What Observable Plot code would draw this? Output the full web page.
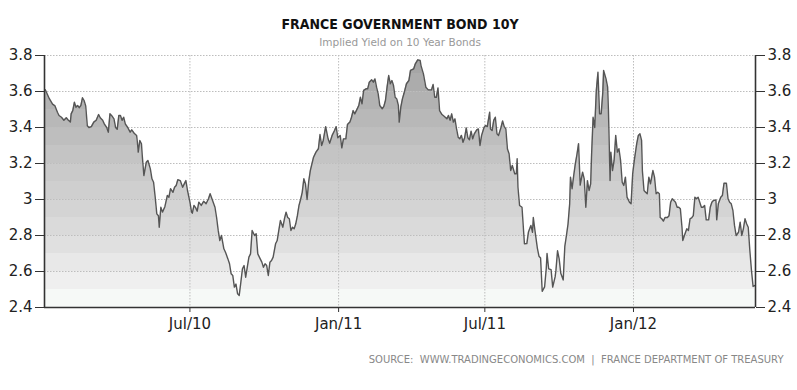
<!DOCTYPE html>
<html><head><meta charset="utf-8">
<script src="https://cdn.jsdelivr.net/npm/d3@7"></script>
<script src="https://cdn.jsdelivr.net/npm/@observablehq/plot@0.6"></script>
<style>body{margin:0;background:#fff;}</style>
</head><body><div id="chart"></div>
<script>
const title = "FRANCE GOVERNMENT BOND 10Y";
const subtitle = "Implied Yield on 10 Year Bonds";
const source = "SOURCE:  WWW.TRADINGECONOMICS.COM  |  FRANCE DEPARTMENT OF TREASURY";

// day offsets from startDate
const startDate = "2010-01-01";
const days = [
  2,7,11,14,17,19,22,25,28,30,
  33,34,36,38,40,42,44,46,48,50,
  52,54,56,59,62,65,68,70,73,75,
  78,80,82,84,87,89,91,93,95,97,
  99,101,104,107,109,112,115,116,117,119,
  121,122,124,127,129,132,134,136,138,140,
  142,143,145,147,150,153,155,157,160,162,
  164,166,169,172,174,176,178,181,183,184,
  186,188,190,192,195,198,201,204,206,209,
  212,214,216,218,220,223,225,228,230,232,
  234,236,238,240,242,244,246,248,250,252,
  254,256,258,261,263,265,268,270,272,274,
  276,278,280,282,284,287,289,291,293,296,
  298,300,302,304,306,308,310,312,314,316,
  318,320,322,324,326,328,330,332,334,337,
  340,342,344,346,349,352,354,357,360,362,
  364,367,369,371,374,376,379,381,383,385,
  387,390,392,394,396,399,401,403,406,408,
  410,412,414,416,419,421,423,425,427,429,
  431,433,435,437,439,440,442,444,446,449,
  452,454,458,460,463,466,467,470,473,476,
  478,480,482,484,486,488,490,493,496,499,
  501,503,505,507,509,511,513,515,517,519,
  521,523,525,527,529,531,533,536,538,540,
  542,545,547,549,552,553,555,557,559,561,
  563,566,568,570,572,574,576,578,580,583,
  585,586,587,589,592,595,598,600,603,605,
  606,608,611,613,615,617,620,622,623,625,
  628,630,633,634,636,638,640,643,645,647,
  649,651,652,654,656,658,660,662,664,667,
  669,671,673,675,677,678,680,682,684,686,
  688,690,692,693,696,698,699,701,702,704,
  706,708,710,712,714,716,718,720,722,725,
  727,729,731,734,736,738,740,741,743,745,
  747,749,751,754,756,758,760,762,763,765,
  767,769,772,774,776,778,780,782,784,786,
  788,790,791,793,796,798,800,802,804,806,
  808,810,812,814,816,818,820,823,825,827,
  829,832,833,835,838,840,842,845,847,849,
  851,853,855,857,860,862,864,866,868,870,
  872,874,876,878,880
];
const yields = [
  3.61,3.56,3.53,3.52,3.485,3.467,3.457,3.44,3.454,3.443,
  3.43,3.476,3.494,3.54,3.513,3.522,3.51,3.522,3.565,3.55,
  3.52,3.41,3.40,3.405,3.43,3.44,3.472,3.454,3.44,3.42,
  3.40,3.374,3.476,3.467,3.448,3.40,3.39,3.467,3.467,3.44,
  3.457,3.42,3.40,3.374,3.387,3.368,3.356,3.318,3.263,3.328,
  3.31,3.244,3.133,3.207,3.217,3.17,3.115,3.096,3.013,2.92,
  2.91,2.846,2.957,2.93,2.96,3.022,3.013,3.06,3.04,3.068,
  3.078,3.11,3.105,3.068,3.087,3.105,3.05,2.985,2.93,2.924,
  2.967,2.955,2.935,2.985,2.967,2.99,2.976,3.004,3.032,2.994,
  2.957,2.90,2.828,2.772,2.80,2.726,2.707,2.67,2.643,2.587,
  2.578,2.513,2.53,2.476,2.467,2.54,2.615,2.633,2.568,2.624,
  2.68,2.698,2.828,2.80,2.81,2.698,2.67,2.652,2.624,2.643,
  2.633,2.578,2.652,2.661,2.68,2.754,2.772,2.828,2.883,2.846,
  2.893,2.93,2.90,2.893,2.828,2.846,2.837,2.865,2.91,2.967,
  3.0,3.04,3.115,3.087,3.0,3.10,3.16,3.198,3.235,3.263,
  3.282,3.361,3.30,3.328,3.405,3.337,3.313,3.356,3.383,3.405,
  3.343,3.356,3.287,3.337,3.337,3.417,3.43,3.457,3.494,3.476,
  3.494,3.522,3.568,3.532,3.606,3.615,3.615,3.652,3.665,3.652,
  3.67,3.624,3.587,3.522,3.504,3.517,3.55,3.624,3.689,3.643,
  3.661,3.633,3.568,3.559,3.522,3.43,3.513,3.559,3.59,3.643,
  3.661,3.717,3.726,3.754,3.776,3.772,3.744,3.698,3.624,3.609,
  3.609,3.609,3.639,3.568,3.568,3.62,3.494,3.472,3.461,3.448,
  3.467,3.44,3.476,3.43,3.448,3.392,3.346,3.337,3.356,3.318,
  3.343,3.398,3.343,3.332,3.38,3.337,3.365,3.387,3.392,3.30,
  3.356,3.40,3.411,3.405,3.485,3.392,3.383,3.44,3.457,3.365,
  3.356,3.40,3.436,3.405,3.392,3.28,3.254,3.161,3.189,3.143,
  3.143,3.226,3.068,2.967,2.957,2.754,2.755,2.82,2.856,2.818,
  2.90,2.828,2.73,2.685,2.675,2.49,2.515,2.615,2.70,2.615,
  2.61,2.513,2.57,2.606,2.715,2.67,2.59,2.553,2.74,2.80,
  2.865,2.976,3.124,3.06,3.133,3.198,3.25,3.31,3.08,3.152,
  3.115,2.957,3.105,3.05,3.087,3.235,3.457,3.40,3.606,3.707,
  3.476,3.476,3.596,3.717,3.67,3.624,3.494,3.105,3.263,3.161,
  3.217,3.356,3.263,3.282,3.217,3.096,3.078,3.124,3.013,2.985,
  2.976,3.143,3.217,3.31,3.356,3.365,3.328,3.16,3.05,3.04,
  3.032,3.124,3.087,3.161,3.124,3.032,3.04,3.032,2.90,2.893,
  2.88,2.90,2.90,2.91,2.985,3.004,2.994,2.985,2.957,2.957,
  2.948,2.846,2.772,2.80,2.837,2.828,2.893,2.898,2.91,3.013,
  3.004,3.013,2.985,2.957,2.957,2.967,2.887,2.887,2.957,2.985,
  2.994,2.998,2.887,2.976,3.013,3.022,3.09,3.09,3.004,2.985,
  2.976,2.94,2.856,2.80,2.818,2.874,2.80,2.837,2.893,2.865,
  2.846,2.717,2.606,2.517,2.522
];

const xDomain = ["2010-01-02", "2012-05-31"];
const xTicks = ["2010-07-01", "2011-01-01", "2011-07-01", "2012-01-01"];
const yDomain = [2.4, 3.8];
const yTicks = [2.4, 2.6, 2.8, 3.0, 3.2, 3.4, 3.6, 3.8];
// fill bands, top (3.8) to bottom (2.4), one per 0.1
const bandColors = ["#a6a6a6","#acacac","#b2b2b2","#b8b8b8","#bebebe","#c4c4c4","#cacaca",
                    "#cfcfcf","#d4d4d4","#dadada","#e0e0e0","#e8e8e8","#efefef","#f6f9f7"];

if (days.length !== yields.length) console.error("length mismatch", days.length, yields.length);

const t0 = Date.parse(startDate);
const data = days.map((d, i) => ({date: new Date(t0 + d * 864e5), value: yields[i]}));
const xD = xDomain.map(d => new Date(d));
const xT = xTicks.map(d => new Date(d));
const fmtX = d3.utcFormat("%b/%y");
const fmtY = d => String(+(+d).toFixed(1));

const plot = Plot.plot({
  width: 797, height: 390,
  marginTop: 55, marginBottom: 83, marginLeft: 44, marginRight: 42,
  style: {fontFamily: "DejaVu Sans", background: "#fff", color: "#222"},
  x: {type: "utc", domain: xD, axis: null},
  y: {domain: yDomain, axis: null},
  marks: [
    Plot.areaY(data, {x: "date", y1: yDomain[0], y2: "value", fill: "#ccc"}),
    Plot.gridY(yTicks.slice(1), {stroke: "#bdbdbd", strokeOpacity: 1, strokeDasharray: "1.5,1.5", strokeWidth: 1}),
    Plot.gridX(xT, {stroke: "#bdbdbd", strokeOpacity: 1, strokeDasharray: "1.5,1.5", strokeWidth: 1}),
    Plot.lineY(data, {x: "date", y: "value", stroke: "#555", strokeWidth: 1.4}),
    Plot.ruleY([yDomain[0]], {stroke: "#333", strokeWidth: 1.6}),
    Plot.ruleX(xD, {stroke: "#333", strokeWidth: 1.6}),
    Plot.axisY(yTicks, {anchor: "left", label: null, tickSize: 9, tickPadding: 3, tickFormat: fmtY, fontSize: 15, color: "#222", stroke: "#333"}),
    Plot.axisY(yTicks, {anchor: "right", label: null, tickSize: 9, tickPadding: 3, tickFormat: fmtY, fontSize: 15, color: "#222", stroke: "#333"}),
    Plot.axisX(xT, {anchor: "bottom", label: null, tickSize: 5, tickPadding: 6, tickFormat: fmtX, fontSize: 15, color: "#222", stroke: "#333"}),
    Plot.text([title], {text: d => d, frameAnchor: "top", lineAnchor: "middle", dy: -31, fontSize: 14, fontWeight: "bold", fill: "#111", fontFamily: "DejaVu Sans Condensed"}),
    Plot.text([subtitle], {text: d => d, frameAnchor: "top", lineAnchor: "middle", dy: -13, fontSize: 10.5, fill: "#999"}),
    Plot.text([source], {text: d => d, frameAnchor: "bottom-right", lineAnchor: "middle", dx: 28, dy: 52, textAnchor: "end", fontSize: 10, fill: "#888"})
  ]
});

document.getElementById("chart").appendChild(plot);

// stepped gradient for the area fill
const svg = d3.select(plot);
const ys = plot.scale("y");
const grad = svg.insert("defs", ":first-child").append("linearGradient")
  .attr("id", "bands").attr("gradientUnits", "userSpaceOnUse")
  .attr("x1", 0).attr("x2", 0)
  .attr("y1", ys.apply(yDomain[1])).attr("y2", ys.apply(yDomain[0]));
bandColors.forEach((c, i) => {
  grad.append("stop").attr("offset", i / bandColors.length).attr("stop-color", c);
  grad.append("stop").attr("offset", (i + 1) / bandColors.length).attr("stop-color", c);
});
svg.selectAll('g[aria-label="area"]').attr("fill", "url(#bands)");
svg.selectAll('g[aria-label="area"] path').attr("fill", "url(#bands)");
</script>
</body></html>
